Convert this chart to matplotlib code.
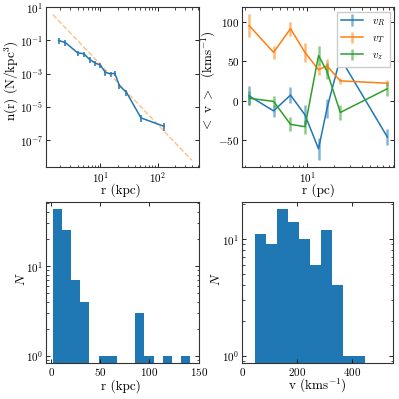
import numpy as np
import matplotlib
matplotlib.use("Agg")
import matplotlib.pyplot as plt

plt.rcParams.update({
    "font.family": "serif",
    "font.serif": ["cmr10", "DejaVu Serif"],
    "mathtext.fontset": "cm",
    "axes.formatter.use_mathtext": True,
    "xtick.direction": "in",
    "ytick.direction": "in",
    "xtick.top": True,
    "ytick.right": True,
    "axes.unicode_minus": True,
})

# ---- density profile (top-left) ----
dens_r = [1.87, 2.45, 4.0, 5.1, 6.5, 8.2, 9.9, 12.2, 15.0, 17.8, 21.5, 28.5, 51.0, 128.0]
dens_n = [0.10, 0.075, 0.018, 0.016, 0.0072, 0.0043, 0.0034, 0.0012, 0.0010, 0.00105,
          0.00019, 7.5e-5, 2.2e-6, 6.9e-7]
dens_relerr = [0.4, 0.35, 0.35, 0.35, 0.35, 0.35, 0.35, 0.35, 0.35, 0.35, 0.35, 0.4, 0.45, 0.5]
fit_r = [1.48, 392.0]
fit_n = [3.6, 6.3e-9]

# ---- mean velocities (top-right) ----
vel_r = [2.25, 4.21, 6.49, 9.4, 13.3, 16.5, 23.2, 77.3]
vR = [6, -13, 7, -18, -61, -10, 54, -46]
vR_err = [12, 8, 10, 12, 14, 12, 12, 10]
vT = [95, 61, 91, 61, 39, 44, 25, 22]
vT_err = [14, 8, 9, 12, 7, 9, 4, 4]
vz = [3, -1, -30, -33, 57, 37, -15, 15]
vz_err = [9, 7, 9, 9, 12, 10, 10, 9]

# ---- radius histogram (bottom-left) ----
r_hist_min, r_hist_max = 1.7, 141.3
r_counts = [43, 25, 7, 4, 0, 1, 1, 0, 0, 3, 1, 0, 1, 0, 1]

# ---- velocity histogram (bottom-right) ----
v_hist_min, v_hist_max = 44.8, 446.0
v_counts = [11, 9, 18, 14, 10, 6, 12, 4, 1, 1]

blue = "#1f77b4"
orange = "#ff7f0e"
green = "#2ca02c"

fig = plt.figure(figsize=(3.99, 3.99), dpi=100)
ax1 = fig.add_axes([0.115, 0.581, 0.383, 0.401])
ax2 = fig.add_axes([0.607, 0.581, 0.381, 0.401])
ax3 = fig.add_axes([0.115, 0.090, 0.383, 0.404])
ax4 = fig.add_axes([0.607, 0.090, 0.379, 0.404])

lab_fs = 9.5
tick_fs = 8

# top-left
yerr = np.array(dens_relerr) * np.array(dens_n)
ax1.errorbar(dens_r, dens_n, yerr=yerr, color=blue, lw=1.1, elinewidth=1.1, capsize=0)
ax1.plot(fit_r, fit_n, "--", color=orange, alpha=0.5, lw=1)
ax1.set_xscale("log")
ax1.set_yscale("log")
ax1.set_ylim(10 ** -8.62, 10 ** 1.003)
ax1.set_xlabel("r (kpc)", fontsize=lab_fs)
ax1.set_ylabel(r"n(r) (N/kpc$^3$)", fontsize=lab_fs)

# top-right
for vals, errs, col, lab in [(vR, vR_err, blue, r"$v_R$"),
                              (vT, vT_err, orange, r"$v_T$"),
                              (vz, vz_err, green, r"$v_z$")]:
    c = ax2.errorbar(vel_r, vals, yerr=errs, color=col, lw=1.1, elinewidth=1.8, capsize=0, label=lab)
    for lc in c.lines[2]:
        lc.set_alpha(0.55)
ax2.set_xscale("log")
ax2.set_xlabel("r (pc)", fontsize=lab_fs)
ax2.set_ylabel(r"$<$ v $>$  (kms$^{-1}$)", fontsize=lab_fs)
ax2.set_yticks([-50, 0, 50, 100])
ax2.legend(loc="upper right", fontsize=8, framealpha=1, edgecolor="#cccccc", fancybox=False,
           handlelength=2, borderaxespad=0.4, labelspacing=0.5)

# bottom-left
r_edges = np.linspace(r_hist_min, r_hist_max, len(r_counts) + 1)
ax3.hist(r_edges[:-1], bins=r_edges, weights=r_counts, color=blue, log=True)
ax3.set_xlabel("r (kpc)", fontsize=lab_fs)
ax3.set_ylabel(r"$N$", fontsize=lab_fs)
ax3.set_xticks([0, 50, 100, 150])

# bottom-right
v_edges = np.linspace(v_hist_min, v_hist_max, len(v_counts) + 1)
ax4.hist(v_edges[:-1], bins=v_edges, weights=v_counts, color=blue, log=True)
ax4.set_xlim(0, 550)
ax4.set_xticks([0, 200, 400])
ax4.set_xlabel(r"v (kms$^{-1}$)", fontsize=lab_fs)
ax4.set_ylabel(r"$N$", fontsize=lab_fs)

label_pos = {
    ax1: ((0.49, -0.145), (-0.222, 0.54)),
    ax2: ((0.50, -0.145), (-0.218, 0.54)),
    ax3: ((0.49, -0.141), (-0.159, 0.52)),
    ax4: ((0.50, -0.14), (-0.173, 0.52)),
}

for ax in (ax1, ax2, ax3, ax4):
    ax.tick_params(labelsize=tick_fs, which="major", length=3, width=0.6, pad=2)
    ax.tick_params(which="minor", length=1.8, width=0.5)
    for s in ax.spines.values():
        s.set_linewidth(0.8)
        s.set_color("#333333")
    (xx, xy), (yx, yy) = label_pos[ax]
    ax.xaxis.set_label_coords(xx, xy)
    ax.xaxis.label.set_va("center")
    ax.yaxis.set_label_coords(yx, yy)
    ax.yaxis.label.set_va("center")

fig.savefig("out.png", dpi=100)
